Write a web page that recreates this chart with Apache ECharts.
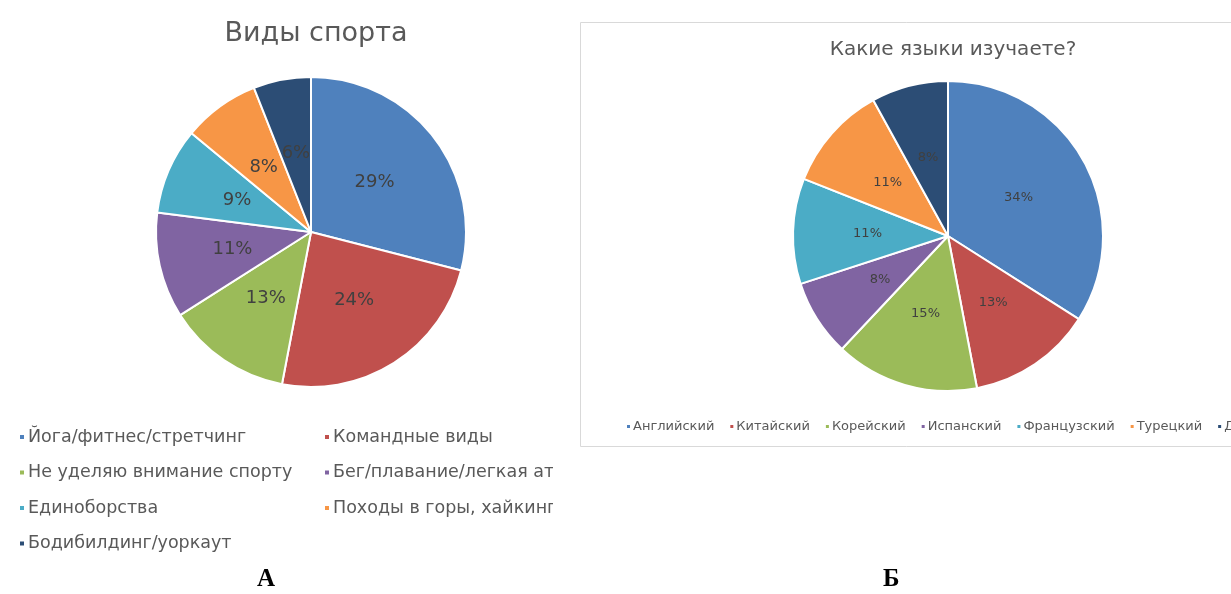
<!DOCTYPE html>
<html>
<head>
<meta charset="utf-8">
<script src="https://cdn.jsdelivr.net/npm/echarts@6/dist/echarts.min.js"></script>
<style>
  html, body { margin: 0; padding: 0; background: #fff; }
  #chart { width: 1231px; height: 594px; }
</style>
</head>
<body>
<div id="chart"></div>
<script>
const sportNames = [
  "Йога/фитнес/стретчинг",
  "Командные виды",
  "Не уделяю внимание спорту",
  "Бег/плавание/легкая атлетика",
  "Единоборства",
  "Походы в горы, хайкинг",
  "Бодибилдинг/уоркаут"
];
const sportValues = [29, 24, 13, 11, 9, 8, 6];

const langNames = ["Английский", "Китайский", "Корейский", "Испанский", "Французский", "Турецкий", "Другие"];
const langValues = [34, 13, 15, 8, 11, 11, 8];

const palette = ["#4F81BD", "#C0504D", "#9BBB59", "#8064A2", "#4BACC6", "#F79646", "#2C4D75"];
const font = "DejaVu Sans";

const chart = echarts.init(document.getElementById("chart"));

const toData = (names, values) => names.map((n, i) => ({ name: n, value: values[i] }));

chart.setOption({
  color: palette,
  animation: false,
  textStyle: { fontFamily: font },
  title: [
    {
      text: "Виды спорта",
      left: 311,
      top: 15,
      textAlign: "center",
      textStyle: { fontSize: 27, fontWeight: "normal", color: "#595959", fontFamily: font }
    },
    {
      text: "Какие языки изучаете?",
      left: 948,
      top: 35,
      textAlign: "center",
      textStyle: { fontSize: 20, fontWeight: "normal", color: "#595959", fontFamily: font }
    }
  ],
  legend: [
    {
      // left column
      orient: "vertical",
      left: 13,
      top: 423,
      itemWidth: 6,
      itemHeight: 6,
      itemGap: 17.5,
      icon: "rect",
      data: [sportNames[0], sportNames[2], sportNames[4], sportNames[6]],
      textStyle: { fontSize: 17.5, color: "#595959", fontFamily: font, padding: [0, 0, 0, -2] }
    },
    {
      // right column (cut off by the white mask below)
      orient: "vertical",
      left: 318,
      top: 423,
      itemWidth: 6,
      itemHeight: 6,
      itemGap: 17.5,
      icon: "rect",
      data: [sportNames[1], sportNames[3], sportNames[5]],
      textStyle: { fontSize: 17.5, color: "#595959", fontFamily: font, padding: [0, 0, 0, -2] }
    },
    {
      orient: "horizontal",
      left: 620,
      top: 415,
      width: 1300,
      itemWidth: 5,
      itemHeight: 5,
      itemGap: 14,
      icon: "rect",
      data: langNames,
      textStyle: { fontSize: 13, color: "#595959", fontFamily: font, padding: [0, 0, 0, -3] }
    }
  ],
  graphic: [
    {
      type: "rect",
      silent: true,
      z: -1,
      shape: { x: 580.5, y: 22.5, width: 700, height: 424 },
      style: { fill: "none", stroke: "#D9D9D9", lineWidth: 1 }
    },
    {
      // edge of the source chart area: legend text is clipped here
      type: "rect",
      silent: true,
      z: 100,
      shape: { x: 553, y: 452, width: 80, height: 75 },
      style: { fill: "#fff" }
    },
    {
      type: "text",
      left: 257,
      top: 567,
      style: { text: "А", fontFamily: "Liberation Serif", fontWeight: "bold", fontSize: 25, fill: "#000" }
    },
    {
      type: "text",
      left: 883,
      top: 567,
      style: { text: "Б", fontFamily: "Liberation Serif", fontWeight: "bold", fontSize: 25, fill: "#000" }
    }
  ],
  series: [
    {
      name: "Виды спорта",
      type: "pie",
      center: [311, 232],
      radius: 155,
      startAngle: 90,
      clockwise: true,
      itemStyle: { borderColor: "#fff", borderWidth: 2 },
      label: {
        show: true,
        position: "inside",
        formatter: "{c}%",
        fontSize: 18,
        fontFamily: font,
        color: "#404040"
      },
      labelLine: { show: false },
      emphasis: { disabled: true },
      data: toData(sportNames, sportValues)
    },
    {
      name: "Какие языки изучаете?",
      type: "pie",
      center: [948, 236],
      radius: 155,
      startAngle: 90,
      clockwise: true,
      itemStyle: { borderColor: "#fff", borderWidth: 2 },
      label: {
        show: true,
        position: "inside",
        formatter: "{c}%",
        fontSize: 13,
        fontFamily: font,
        color: "#404040"
      },
      labelLine: { show: false },
      emphasis: { disabled: true },
      data: toData(langNames, langValues)
    }
  ]
});

window.addEventListener("resize", chart.resize);
</script>
</body>
</html>
